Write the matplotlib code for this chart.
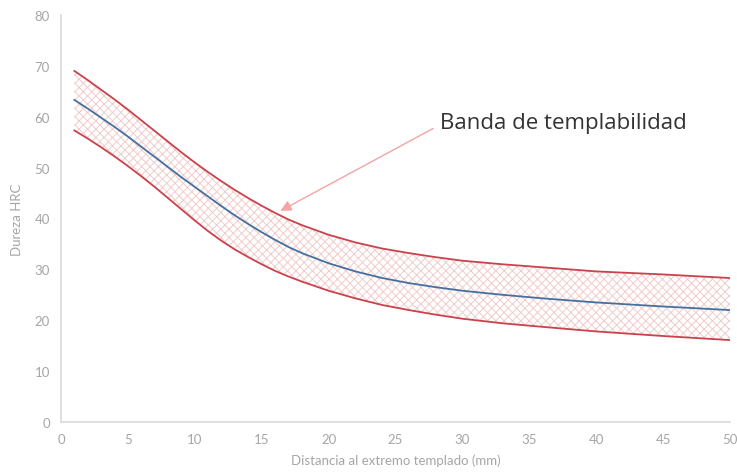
import matplotlib
matplotlib.use("Agg")
import matplotlib.pyplot as plt

# Data
dist_mm = [1, 2, 3, 4, 5, 6, 7, 8, 9, 10, 11, 12, 13, 14, 15, 16, 17, 18,
           20, 22, 24, 26, 28, 30, 33, 36, 40, 45, 50]
upper_hrc = [69, 67.2, 65.3, 63.4, 61.4, 59.3, 57.2, 55.1, 53, 51, 49.1, 47.3,
             45.6, 44, 42.5, 41.1, 39.8, 38.7, 36.8, 35.3, 34.1, 33.2, 32.4,
             31.7, 31, 30.4, 29.6, 29, 28.3]
mid_hrc = [63.3, 61.6, 59.8, 58, 56.1, 54.1, 52.1, 50.1, 48.1, 46.2, 44.3,
           42.4, 40.6, 38.9, 37.3, 35.8, 34.4, 33.2, 31.2, 29.6, 28.3, 27.3,
           26.5, 25.8, 25, 24.3, 23.5, 22.7, 22]
lower_hrc = [57.3, 55.7, 54, 52.2, 50.3, 48.3, 46.2, 44, 41.8, 39.6, 37.5,
             35.6, 33.9, 32.4, 31, 29.7, 28.6, 27.6, 25.8, 24.3, 23, 22, 21.1,
             20.3, 19.4, 18.7, 17.8, 16.9, 16.1]
x_ticks = [0, 5, 10, 15, 20, 25, 30, 35, 40, 45, 50]
y_ticks = [0, 10, 20, 30, 40, 50, 60, 70, 80]
annot_text = "Banda de templabilidad"
annot_target = (16.4, 41.5)
annot_pos = (28.3, 58.8)

plt.rcParams['font.family'] = ['Lato', 'DejaVu Sans']
plt.rcParams['hatch.color'] = '#f0cccc'
plt.rcParams['hatch.linewidth'] = 0.7

fig = plt.figure(figsize=(7.37, 4.77), dpi=100)
ax = fig.add_axes([0.0828, 0.1132, 0.9077, 0.8533])

ax.fill_between(dist_mm, lower_hrc, upper_hrc, facecolor='none',
                edgecolor='#f0cccc', hatch='xxxx', linewidth=0)
ax.plot(dist_mm, upper_hrc, color='#c9424c', lw=1.3)
ax.plot(dist_mm, lower_hrc, color='#c9424c', lw=1.3)
ax.plot(dist_mm, mid_hrc, color='#44709f', lw=1.3)

ax.set_xlim(0, 50)
ax.set_ylim(0, 80)
ax.set_xticks(x_ticks)
ax.set_yticks(y_ticks)
for s in ['top', 'right']:
    ax.spines[s].set_visible(False)
for s in ['left', 'bottom']:
    ax.spines[s].set_color('#d9d9d9')
    ax.spines[s].set_linewidth(1.2)
ax.tick_params(length=0, colors='#a6a6a6', labelsize=9.5, pad=8)
ax.set_xlabel('Distancia al extremo templado (mm)', color='#a6a6a6',
              fontsize=9.5, labelpad=6)
ax.set_ylabel('Dureza HRC', color='#a6a6a6', fontsize=9.5, labelpad=8)

ax.annotate(annot_text, xy=annot_target, xytext=annot_pos,
            ha='left', va='center', fontsize=16, color='#333333',
            family=['Open Sans', 'DejaVu Sans'],
            arrowprops=dict(arrowstyle='-|>', color='#f4a3a6', lw=1.0,
                            mutation_scale=16, shrinkA=3, shrinkB=0,
                            relpos=(0, 0.4)))

fig.savefig('out.png', dpi=100)
